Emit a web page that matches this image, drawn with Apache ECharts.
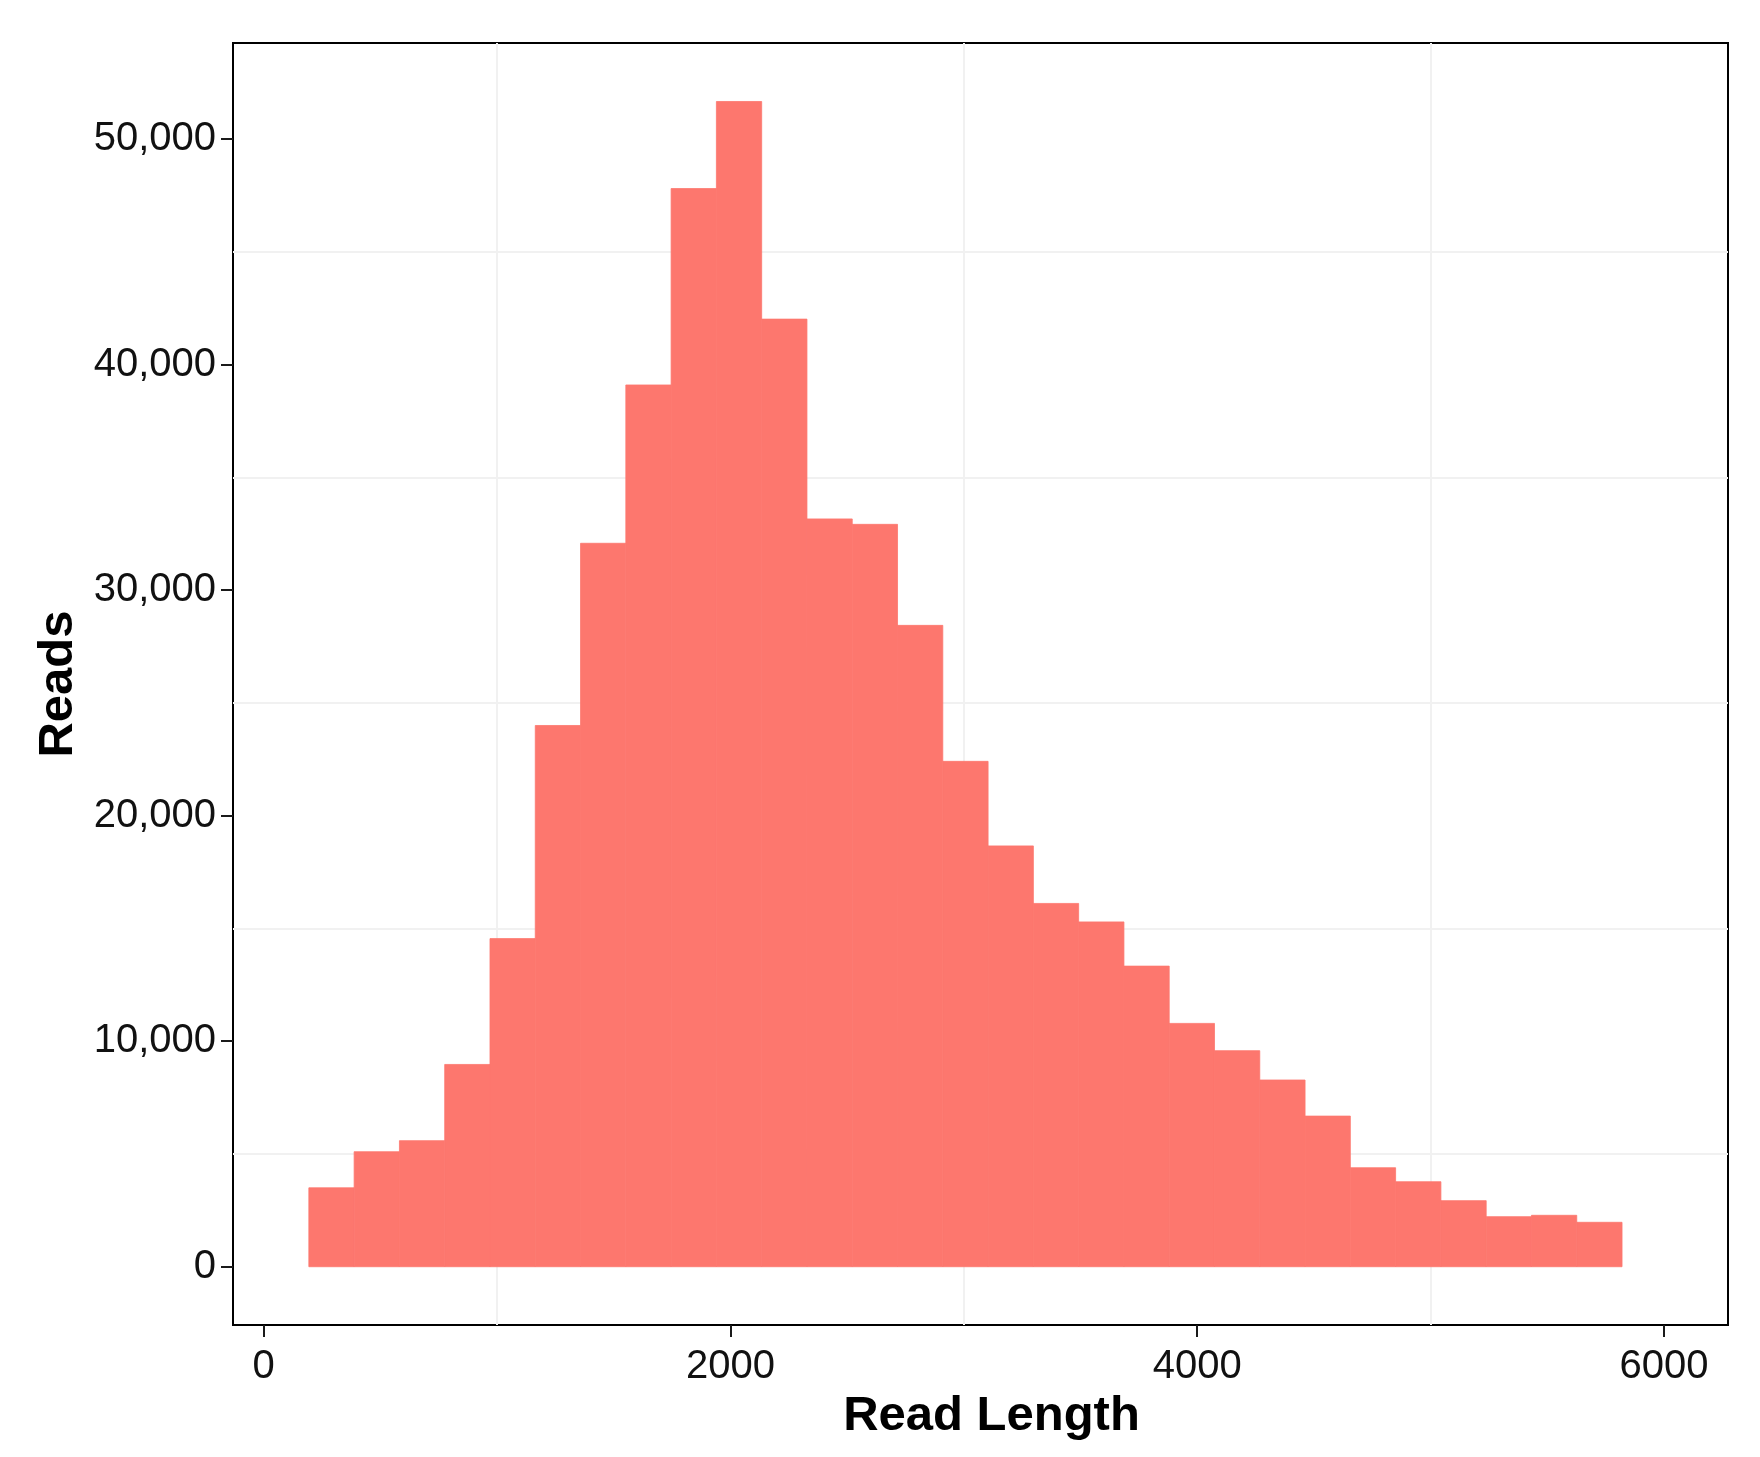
<!DOCTYPE html>
<html>
<head>
<meta charset="utf-8">
<script src="https://cdn.jsdelivr.net/npm/echarts@6/dist/echarts.min.js"></script>
<style>
  html, body { margin: 0; padding: 0; background: #ffffff; }
  #chart { width: 1760px; height: 1457px; }
</style>
</head>
<body>
<div id="chart"></div>
<script>
// Histogram bin edges (read length) and counts per bin
const binEdges = [194, 388, 582, 776, 970, 1164, 1358, 1552, 1746, 1940,
                  2134, 2328, 2522, 2716, 2910, 3104, 3298, 3492, 3686, 3880,
                  4074, 4268, 4462, 4656, 4850, 5044, 5238, 5432, 5626, 5820];
const readCounts = [3500, 5100, 5590, 8970, 14550, 24000, 32080, 39100, 47810, 51670,
                    42020, 33160, 32920, 28440, 22410, 18660, 16110, 15290, 13330, 10790,
                    9580, 8280, 6680, 4390, 3770, 2930, 2220, 2280, 1970];
const xTickValues = [0, 2000, 4000, 6000];
const yTickValues = [0, 10000, 20000, 30000, 40000, 50000];
const xMinorGrid = [1000, 3000, 5000];
const yMinorGrid = [5000, 15000, 25000, 35000, 45000];
const xTitle = 'Read Length';
const yTitle = 'Reads';

const barData = readCounts.map((c, i) => [binEdges[i], binEdges[i + 1], c]);

const FONT = '"Liberation Sans", Arial, Helvetica, sans-serif';
const BAR_COLOR = '#FD776E';
const chart = echarts.init(document.getElementById('chart'), null, { renderer: 'canvas' });

const gridLines = []
  .concat(xMinorGrid.map(v => ({ xAxis: v })))
  .concat(yMinorGrid.map(v => ({ yAxis: v })));

chart.setOption({
  backgroundColor: '#ffffff',
  animation: false,
  grid: {
    left: 233, top: 43, right: 32, bottom: 132,
    show: true, borderColor: '#000000', borderWidth: 2,
    backgroundColor: 'transparent',
    containLabel: false,
    outerBoundsMode: 'none'
  },
  xAxis: {
    type: 'value',
    min: -131, max: 6274,
    name: xTitle,
    nameLocation: 'middle',
    nameGap: 62,
    nameTextStyle: { fontFamily: FONT, fontSize: 49, fontWeight: 'bold', color: '#000',
                     padding: [0, 0, 0, 22] },
    axisLine: { show: false, onZero: false },
    axisTick: { show: true, customValues: xTickValues, length: 12,
                lineStyle: { color: '#1a1a1a', width: 2 } },
    axisLabel: { customValues: xTickValues, fontFamily: FONT, fontSize: 40, color: '#111',
                 margin: 22, formatter: v => String(v) },
    splitLine: { show: false }
  },
  yAxis: {
    type: 'value',
    min: -2584, max: 54264,
    name: yTitle,
    nameLocation: 'middle',
    nameGap: 140,
    nameRotate: 90,
    nameTextStyle: { fontFamily: FONT, fontSize: 49, fontWeight: 'bold', color: '#000' },
    axisLine: { show: false, onZero: false },
    axisTick: { show: true, customValues: yTickValues, length: 12,
                lineStyle: { color: '#1a1a1a', width: 2 } },
    axisLabel: { customValues: yTickValues, fontFamily: FONT, fontSize: 40, color: '#111',
                 margin: 17,
                 formatter: v => Number(v).toLocaleString('en-US') },
    splitLine: { show: false }
  },
  series: [
    {
      type: 'line',
      data: [],
      z: 1,
      silent: true,
      markLine: {
        z: 1,
        silent: true,
        symbol: ['none', 'none'],
        label: { show: false },
        lineStyle: { color: '#f1f1f1', width: 2, type: 'solid' },
        emphasis: { disabled: true },
        data: gridLines
      }
    },
    {
      type: 'custom',
      z: 3,
      data: barData,
      encode: { x: [0, 1], y: 2 },
      renderItem: function (params, api) {
        const top = api.coord([api.value(0), api.value(2)]);
        const base = api.coord([api.value(1), 0]);
        return {
          type: 'rect',
          shape: { x: top[0], y: top[1], width: base[0] - top[0], height: base[1] - top[1] },
          style: { fill: BAR_COLOR, stroke: BAR_COLOR, lineWidth: 0.8 }
        };
      }
    }
  ]
});
</script>
</body>
</html>
